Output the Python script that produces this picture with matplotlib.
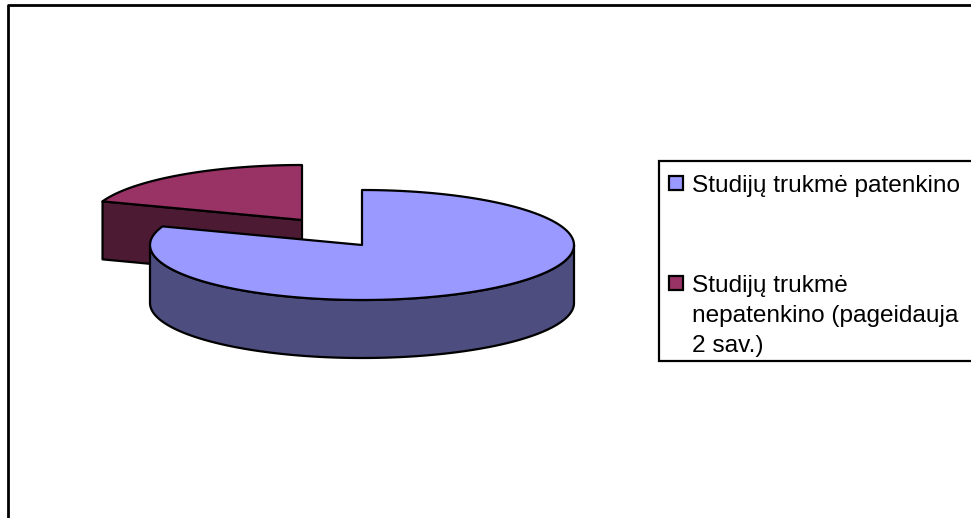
import numpy as np
import matplotlib
matplotlib.use('Agg')
import matplotlib.pyplot as plt
from matplotlib.patches import Polygon, Rectangle

# share of answers, clockwise from 12 o'clock
shares = [80.5, 19.5]
labels = [['Studijų trukmė patenkino'],
          ['Studijų trukmė', 'nepatenkino (pageidauja', '2 sav.)']]
top_colors = ['#9999FF', '#993366']
wall_colors = ['#4D4D80', '#4D1A33']

# pie centres in pixels, the small slice is pulled out
centers = [(362, 245), (302, 220)]
rx, ry = 212, 55
depth = 58
lw = 1.6

plt.rcParams['font.family'] = ['Liberation Sans', 'DejaVu Sans']

fig = plt.figure(figsize=(9.71, 5.18), dpi=100)
ax = fig.add_axes([0, 0, 1, 1])
ax.set_xlim(0, 971)
ax.set_ylim(518, 0)
ax.axis('off')


def arc(cx, cy, a1, a2):
    # angles in degrees, counted clockwise from the top
    t = np.radians(np.linspace(a1, a2, 200))
    return np.column_stack([cx + rx * np.sin(t), cy - ry * np.cos(t)])


# slice angles from the shares
fracs = np.array(shares) / sum(shares) * 360
starts = np.concatenate([[0], np.cumsum(fracs)[:-1]])
ends = starts + fracs

# small slice goes behind the big one
for i in [1, 0]:
    cx, cy = centers[i]
    a1, a2 = starts[i], ends[i]
    if i == 1:
        # the only visible side is the cut on the left
        p = arc(cx, cy, a1, a1 + 0.01)[0]
        wall = [p, (cx, cy), (cx, cy + depth), (p[0], p[1] + depth)]
    else:
        # front of the rim, 90..270 deg
        rim = arc(cx, cy, 90, 270)
        wall = np.vstack([rim, (rim + [0, depth])[::-1]])
    ax.add_patch(Polygon(wall, closed=True, facecolor=wall_colors[i],
                         edgecolor='black', linewidth=lw, joinstyle='round'))
    top = np.vstack([[(cx, cy)], arc(cx, cy, a1, a2)])
    ax.add_patch(Polygon(top, closed=True, facecolor=top_colors[i],
                         edgecolor='black', linewidth=lw, joinstyle='round'))

# outer frame, runs off the picture on the right and at the bottom
ax.plot([8, 8, 975], [525, 5, 5], color='black', linewidth=2)

# legend
ax.add_patch(Rectangle((659, 161), 320, 200, facecolor='white',
                       edgecolor='black', linewidth=lw))
marker_y = [175.5, 276]
first_line = [192, 292]
for i in range(2):
    ax.add_patch(Rectangle((669, marker_y[i]), 14, 14, facecolor=top_colors[i],
                           edgecolor='black', linewidth=lw))
    for j, line in enumerate(labels[i]):
        ax.text(692, first_line[i] + j * 30, line, fontsize=17.6,
                ha='left', va='baseline', color='black')

fig.savefig('out.png', dpi=100)
